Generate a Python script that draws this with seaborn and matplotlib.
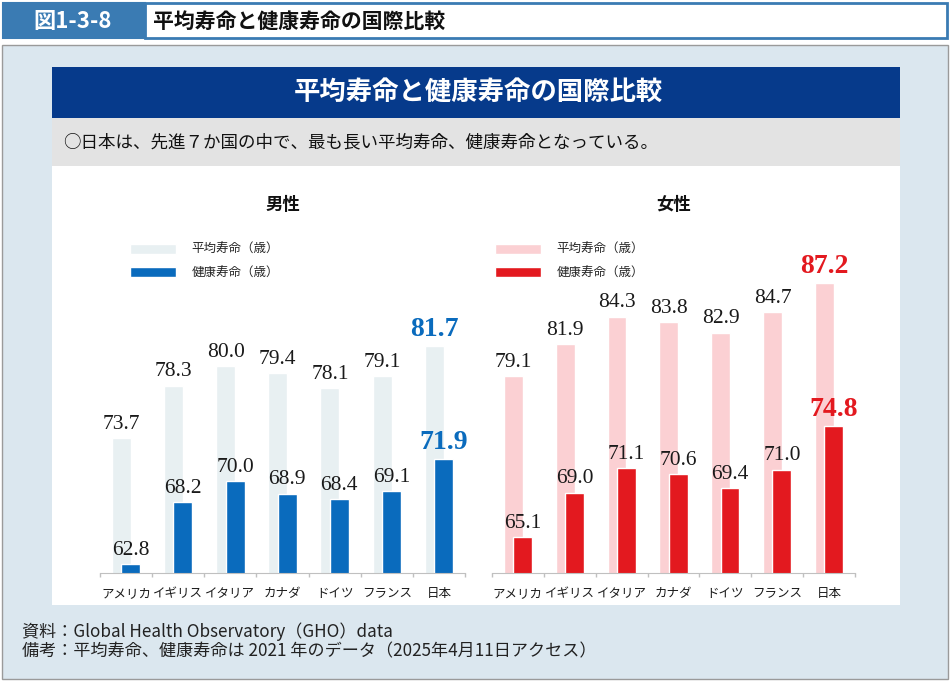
import numpy as np
import matplotlib.pyplot as plt
import seaborn as sns
from matplotlib.patches import Rectangle

# data (years, 2021)
countries = ['アメリカ', 'イギリス', 'イタリア', 'カナダ', 'ドイツ', 'フランス', '日本']
male_avg = [73.7, 78.3, 80.0, 79.4, 78.1, 79.1, 81.7]
male_healthy = [62.8, 68.2, 70.0, 68.9, 68.4, 69.1, 71.9]
female_avg = [79.1, 81.9, 84.3, 83.8, 82.9, 84.7, 87.2]
female_healthy = [65.1, 69.0, 71.1, 70.6, 69.4, 71.0, 74.8]
legend_labels = ['平均寿命（歳）', '健康寿命（歳）']

W, H = 951, 682


def fx(px):
    return px / W


def fy(py):
    return 1 - py / H


sns.set_style('white')
plt.rcParams['font.family'] = ['Noto Sans CJK JP', 'DejaVu Sans']

fig = plt.figure(figsize=(W / 100, H / 100), dpi=100)


def box(x0, y0, x1, y1, **kw):
    kw.setdefault('zorder', -5)
    fig.add_artist(Rectangle((fx(x0), fy(y1)), fx(x1) - fx(x0), fy(y0) - fy(y1),
                             transform=fig.transFigure, **kw))


# header strip
box(3, 3, 145, 38, facecolor='#3a7bb3', edgecolor='#3a7bb3', lw=1.5)
box(145, 3, 947, 38, facecolor='white', edgecolor='#3a7bb3', lw=2)
fig.text(fx(73), fy(21), '図1-3-8', color='white', fontsize=16, fontweight='bold',
         ha='center', va='center')
fig.text(fx(153), fy(21), '平均寿命と健康寿命の国際比較', color='#111111', fontsize=15,
         fontweight='bold', ha='left', va='center')

# outer panel and inner card
box(2, 45, 948, 679, facecolor='#dbe7ef', edgecolor='#9a9a9a', lw=1, zorder=-6)
box(52, 67, 900, 605, facecolor='white', edgecolor='none')
box(52, 67, 900, 118, facecolor='#063a8b', edgecolor='none')
box(52, 118, 900, 166, facecolor='#e3e3e3', edgecolor='none')
fig.text(fx(478), fy(92), '平均寿命と健康寿命の国際比較', color='white', fontsize=19,
         fontweight='bold', ha='center', va='center')
fig.text(fx(63), fy(142), '○日本は、先進７か国の中で、最も長い平均寿命、健康寿命となっている。',
         color='#111111', fontsize=12.6, ha='left', va='center')

# footer notes
fig.text(fx(22), fy(632), '資料：Global Health Observatory（GHO）data',
         color='#222222', fontsize=12.3, ha='left', va='center')
fig.text(fx(22), fy(651), '備考：平均寿命、健康寿命は 2021 年のデータ（2025年4月11日アクセス）',
         color='#222222', fontsize=12.3, ha='left', va='center')


def draw_panel(left_px, right_px, avg, healthy, light, dark, accent, title, legend_x):
    ax = fig.add_axes([fx(left_px), fy(573), fx(right_px) - fx(left_px), fy(251) - fy(573)])
    ax.set_facecolor('none')

    sns.barplot(x=countries, y=avg, color=light, width=0.365, saturation=1,
                errorbar=None, label=legend_labels[0], ax=ax)
    for bar in ax.containers[0]:
        bar.set_x(bar.get_x() - 0.09)
    sns.barplot(x=countries, y=healthy, color=dark, width=0.365, saturation=1,
                errorbar=None, label=legend_labels[1], ax=ax)
    for bar in ax.containers[1]:
        bar.set_x(bar.get_x() + 0.09)

    for cont in ax.containers[:2]:
        texts = ax.bar_label(cont, fmt='%.1f', padding=3, fontsize=15.5,
                             family='Liberation Serif', color='#1a1a1a')
        texts[-1].set(fontsize=20, fontweight='bold', color=accent)

    ax.set_ylim(62, 90)
    ax.set_xlim(-0.5, 6.5)
    ax.set_yticks([])
    ax.set_xlabel('')
    ax.set_ylabel('')
    for side in ['left', 'top', 'right']:
        ax.spines[side].set_visible(False)
    ax.spines['bottom'].set_color('#c0c0c0')
    ax.set_xticks(np.arange(-0.5, 7, 1), minor=True)
    ax.tick_params(axis='x', which='major', length=0, pad=10, labelsize=9, labelcolor='#1a1a1a')
    ax.tick_params(axis='x', which='minor', length=3, width=1, color='#c0c0c0', bottom=True)

    ax.legend(loc='upper left', bbox_to_anchor=(fx(legend_x), fy(243)),
              bbox_transform=fig.transFigure, frameon=False, fontsize=9,
              handlelength=3.7, handleheight=0.85, handletextpad=1.2,
              labelspacing=0.85, borderpad=0, borderaxespad=0)
    fig.text(fx((left_px + right_px) / 2), fy(205), title, fontsize=12.5, fontweight='bold',
             ha='center', va='center', color='#111111')
    return ax


draw_panel(100, 465, male_avg, male_healthy, '#e8f0f2', '#0a6bbd', '#0a6bbd', '男性', 130)
draw_panel(492, 855, female_avg, female_healthy, '#fbd0d3', '#e3191f', '#e3191f', '女性', 495)

fig.savefig('out.png', dpi=100)
